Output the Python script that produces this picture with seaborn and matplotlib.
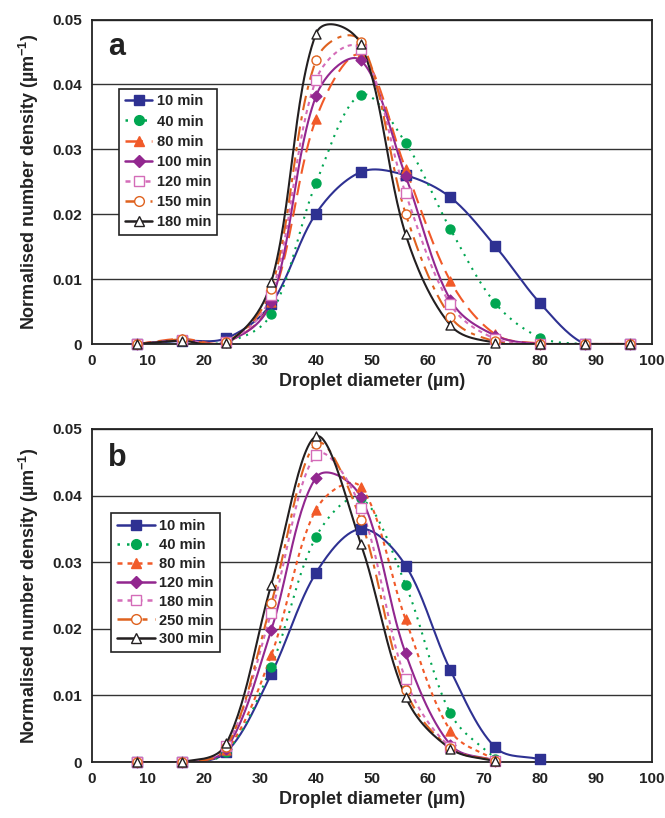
import numpy as np
import matplotlib
matplotlib.use('Agg')
import matplotlib.pyplot as plt
from matplotlib.lines import Line2D
from matplotlib.ticker import MultipleLocator, FuncFormatter
import seaborn as sns

# values (droplet diameter in um, normalised number density)
diam_a = [8, 16, 24, 32, 40, 48, 56, 64, 72, 80, 88, 96]
a_10min = [0, 0.0005, 0.0009, 0.0062, 0.0201, 0.0265, 0.0260, 0.0226, 0.0151, 0.0063, 0, 0]
a_40min = [0, 0.0005, 0.0003, 0.0046, 0.0248, 0.0384, 0.0310, 0.0177, 0.0063, 0.0010, 0, 0]
a_80min = [0, 0.0008, 0.0003, 0.0065, 0.0347, 0.0445, 0.0270, 0.0097, 0.0015, 0.0001, 0, 0]
a_100min = [0, 0.0006, 0.0003, 0.0065, 0.0382, 0.0437, 0.0259, 0.0068, 0.0013, 0, 0, 0]
a_120min = [0, 0.0006, 0.0003, 0.0076, 0.0407, 0.0455, 0.0232, 0.0061, 0.0008, 0, 0, 0]
a_150min = [0, 0.0007, 0.0003, 0.0085, 0.0437, 0.0466, 0.0201, 0.0042, 0.0004, 0, 0, 0]
a_180min = [0, 0.0005, 0.0001, 0.0095, 0.0478, 0.0462, 0.0169, 0.0029, 0.0002, 0, 0, 0]

diam_b = [8, 16, 24, 32, 40, 48, 56, 64, 72]
diam_b10 = [8, 16, 24, 32, 40, 48, 56, 64, 72, 80]
b_10min = [0, 0, 0.0015, 0.0132, 0.0284, 0.0350, 0.0295, 0.0138, 0.0022, 0.0004]
b_40min = [0, 0, 0.0015, 0.0143, 0.0338, 0.0396, 0.0266, 0.0073, 0.0005]
b_80min = [0, 0, 0.0018, 0.0160, 0.0379, 0.0413, 0.0214, 0.0047, 0.0003]
b_120min = [0, 0, 0.0020, 0.0198, 0.0427, 0.0398, 0.0163, 0.0026, 0.0002]
b_180min = [0, 0, 0.0024, 0.0224, 0.0461, 0.0382, 0.0124, 0.0022, 0.0002]
b_250min = [0, 0, 0.0022, 0.0238, 0.0478, 0.0363, 0.0108, 0.0021, 0.0002]
b_300min = [0, 0, 0.0028, 0.0266, 0.0489, 0.0328, 0.0098, 0.0020, 0.0001]

labels_a = ['10 min', '40 min', '80 min', '100 min', '120 min', '150 min', '180 min']
labels_b = ['10 min', '40 min', '80 min', '120 min', '180 min', '250 min', '300 min']

sns.set_style('white')
plt.rcParams['font.family'] = ['Liberation Sans', 'DejaVu Sans']
plt.rcParams['font.weight'] = 'bold'
plt.rcParams['axes.labelweight'] = 'bold'
plt.rcParams['mathtext.fontset'] = 'custom'
plt.rcParams['mathtext.rm'] = 'Liberation Sans:bold'
plt.rcParams['mathtext.it'] = 'Liberation Sans:bold'
plt.rcParams['mathtext.bf'] = 'Liberation Sans:bold'

BLUE = '#2e3192'
GREEN = '#00a651'
RED = '#f15a29'
PURPLE = '#92278f'
PINK = '#d46cb8'
ORANGE = '#df621f'
BLACK = '#231f20'

solid = '-'
dots = (0, (1.0, 2.8))
longdash = (0, (7, 3.5))
sqdot = (0, (2, 2))
dashdot = (0, (7, 3, 2, 3))

# (colour, linestyle, marker, open marker?)
styles_a = [(BLUE, solid, 's', False), (GREEN, dots, 'o', False), (RED, longdash, '^', False),
            (PURPLE, solid, 'D', False), (PINK, sqdot, 's', True), (ORANGE, dashdot, 'o', True),
            (BLACK, solid, '^', True)]
styles_b = [(BLUE, solid, 's', False), (GREEN, dots, 'o', False), (RED, sqdot, '^', False),
            (PURPLE, solid, 'D', False), (PINK, sqdot, 's', True), (ORANGE, dashdot, 'o', True),
            (BLACK, solid, '^', True)]


def smooth(ax, xs, ys, n=30, p=0.7):
    # Excel-like smoothed line: cubic Bezier pieces built in screen space
    pts = ax.transData.transform(np.column_stack([xs, ys]).astype(float))
    m = len(pts)
    t = np.linspace(0, 1, n)[1:, None]
    out = [pts[0]]
    for i in range(m - 1):
        p0, p1, p2, p3 = pts[max(i - 1, 0)], pts[i], pts[i + 1], pts[min(i + 2, m - 1)]
        d01, d12, d23 = [np.hypot(*(b - a)) ** p for a, b in ((p0, p1), (p1, p2), (p2, p3))]
        c1 = p1 + (p2 - p0) * d12 / (d01 + d12) / 3
        c2 = p2 - (p3 - p1) * d12 / (d12 + d23) / 3
        seg = (1 - t) ** 3 * p1 + 3 * (1 - t) ** 2 * t * c1 + 3 * (1 - t) * t ** 2 * c2 + t ** 3 * p2
        out.extend(seg)
    out = ax.transData.inverted().transform(np.array(out))
    return out[:, 0], out[:, 1]


def draw_panel(ax, series, labels, styles, tag, leg_pos, hlen, lspace):
    ax.set_xlim(0, 100)
    ax.set_ylim(0, 0.05)
    ax.xaxis.set_major_locator(MultipleLocator(10))
    ax.xaxis.set_minor_locator(MultipleLocator(5))
    ax.yaxis.set_major_locator(MultipleLocator(0.01))
    ax.yaxis.set_minor_locator(MultipleLocator(0.005))
    ax.yaxis.set_major_formatter(FuncFormatter(lambda v, p: '0' if abs(v) < 1e-9 else f'{v:.2f}'))
    ax.tick_params(which='both', direction='inout', length=6, width=1, color='#222222',
                   labelsize=11, pad=4, labelcolor='#222222')
    ax.yaxis.grid(True, color='#333333', lw=1)
    ax.set_axisbelow(True)
    for s in ax.spines.values():
        s.set_color('#222222')
        s.set_linewidth(1.3)

    handles = []
    for (xs, ys), lab, (c, ls, mk, hollow) in zip(series, labels, styles):
        sx, sy = smooth(ax, xs, ys)
        sns.lineplot(x=sx, y=sy, ax=ax, color=c, linestyle=ls, linewidth=1.5,
                     sort=False, estimator=None, legend=False)
        fc = 'white' if hollow else c
        size = 30 if mk == 'D' else 42
        sns.scatterplot(x=xs, y=ys, ax=ax, marker=mk, s=size, color=fc, edgecolor=c,
                        linewidth=1, zorder=4, clip_on=False, legend=False)
        handles.append(Line2D([], [], color=c, linestyle=ls, linewidth=1.8, marker=mk,
                              markersize=7 if mk != 'D' else 6,
                              markerfacecolor=fc, markeredgecolor=c, label=lab))

    leg = ax.legend(handles=handles, loc='upper left', bbox_to_anchor=leg_pos,
                    fontsize=10.5, frameon=True, fancybox=False, framealpha=1,
                    edgecolor='#222222', handlelength=hlen, handletextpad=0.3,
                    labelspacing=lspace, borderpad=0.4, borderaxespad=0)
    leg.get_frame().set_linewidth(1.2)
    for txt in leg.get_texts():
        txt.set_color('#222222')

    ax.text(0.028, 0.89, tag, transform=ax.transAxes, fontsize=22, fontweight='bold',
            color='#222222', va='baseline', ha='left')
    ax.set_xlabel('Droplet diameter (µm)', fontsize=13, labelpad=4, color='#222222')
    ax.set_ylabel('Normalised number density (µm$^{-1}$)', fontsize=13, labelpad=8,
                  color='#222222')


fig = plt.figure(figsize=(6.65, 8.18), dpi=100)
ax_a = fig.add_axes([92 / 665, (818 - 344) / 818, 560 / 665, 324.5 / 818])
ax_b = fig.add_axes([92 / 665, (818 - 762) / 818, 560 / 665, 333 / 818])

series_a = [(diam_a, a_10min), (diam_a, a_40min), (diam_a, a_80min), (diam_a, a_100min),
            (diam_a, a_120min), (diam_a, a_150min), (diam_a, a_180min)]
series_b = [(diam_b10, b_10min), (diam_b, b_40min), (diam_b, b_80min), (diam_b, b_120min),
            (diam_b, b_180min), (diam_b, b_250min), (diam_b, b_300min)]

draw_panel(ax_a, series_a, labels_a, styles_a, 'a', (0.048, 0.787), 1.9, 0.42)
draw_panel(ax_b, series_b, labels_b, styles_b, 'b', (0.034, 0.748), 2.6, 0.34)

fig.savefig('out.png', dpi=100)
